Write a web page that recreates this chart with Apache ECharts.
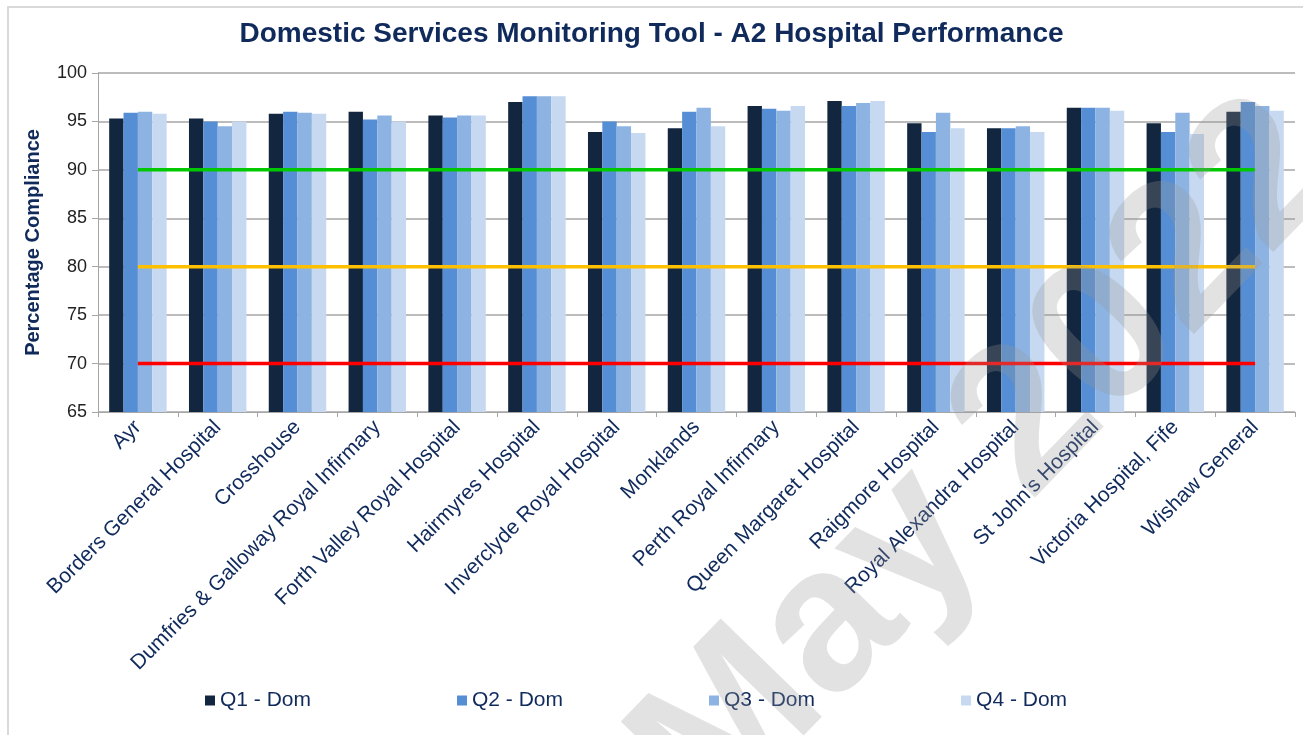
<!DOCTYPE html>
<html>
<head>
<meta charset="utf-8">
<script src="https://cdn.jsdelivr.net/npm/echarts@6/dist/echarts.min.js"></script>
<style>
  html, body { margin: 0; padding: 0; background: #fff; }
  #container { width: 1303px; height: 735px; }
</style>
</head>
<body>
<div id="container"></div>
<script>
const hospitals = ['Ayr', 'Borders General Hospital', 'Crosshouse', 'Dumfries & Galloway Royal Infirmary',
	'Forth Valley Royal Hospital', 'Hairmyres Hospital', 'Inverclyde Royal Hospital', 'Monklands',
	'Perth Royal Infirmary', 'Queen Margaret Hospital', 'Raigmore Hospital', 'Royal Alexandra Hospital',
	"St John's Hospital", 'Victoria Hospital, Fife', 'Wishaw General'];

const q1 = [95.3, 95.3, 95.8, 96.0, 95.6, 97.0, 93.9, 94.3, 96.6, 97.1, 94.8, 94.3, 96.4, 94.8, 96.0];
const q2 = [95.9, 95.0, 96.0, 95.2, 95.4, 97.6, 95.0, 96.0, 96.3, 96.6, 93.9, 94.3, 96.4, 93.9, 97.0];
const q3 = [96.0, 94.5, 95.9, 95.6, 95.6, 97.6, 94.5, 96.4, 96.1, 96.9, 95.9, 94.5, 96.4, 95.9, 96.6];
const q4 = [95.8, 95.0, 95.8, 95.0, 95.6, 97.6, 93.8, 94.5, 96.6, 97.1, 94.3, 93.9, 96.1, 93.7, 96.1];

const target = 90;
const amber = 80;
const minimum = 70;

const navy = '#102a5c';
const font = 'Liberation Sans, Arial, sans-serif';
const myChart = echarts.init(document.getElementById('container'));

const barSeries = (name, data, color) => ({
	name: name,
	type: 'bar',
	data: data,
	barGap: '0%',
	barCategoryGap: '28%',
	itemStyle: { color: color },
	z: 2,
});

const refLine = (value, color) => ({
	type: 'line',
	data: hospitals.map(() => value),
	symbol: 'none',
	silent: true,
	lineStyle: { color: color, width: 3.5 },
	z: 5,
});

const option = {
	animation: false,
	backgroundColor: '#fff',
	textStyle: { fontFamily: font },
	title: {
		text: 'Domestic Services Monitoring Tool - A2 Hospital Performance',
		left: 'center',
		top: 15,
		textStyle: { color: navy, fontSize: 28, fontWeight: 'bold' },
	},
	grid: { left: 98, right: 8, top: 73, bottom: 323, containLabel: false },
	legend: {
		data: ['Q1 - Dom', 'Q2 - Dom', 'Q3 - Dom', 'Q4 - Dom'],
		left: 200,
		top: 685,
		itemWidth: 10,
		itemHeight: 10,
		itemGap: 146,
		icon: 'rect',
		textStyle: { color: navy, fontSize: 21 },
	},
	xAxis: {
		type: 'category',
		data: hospitals,
		axisLine: { lineStyle: { color: '#a6a6a6' } },
		axisTick: { show: true, length: 5, lineStyle: { color: '#a6a6a6' } },
		axisLabel: { rotate: 45, color: navy, fontSize: 21, interval: 0, margin: 12 },
	},
	yAxis: {
		type: 'value',
		min: 65,
		max: 100,
		interval: 5,
		name: 'Percentage Compliance',
		nameLocation: 'middle',
		nameGap: 55,
		nameTextStyle: { color: navy, fontSize: 20, fontWeight: 'bold' },
		axisLine: { show: true, lineStyle: { color: '#a6a6a6' } },
		axisTick: { show: true, length: 6, lineStyle: { color: '#a6a6a6' } },
		axisLabel: { color: '#222', fontSize: 18, margin: 11 },
		splitLine: { lineStyle: { color: '#a6a6a6', width: 1.5 } },
	},
	series: [
		barSeries('Q1 - Dom', q1, '#13263f'),
		barSeries('Q2 - Dom', q2, '#558ed5'),
		barSeries('Q3 - Dom', q3, '#8db3e2'),
		barSeries('Q4 - Dom', q4, '#c6d9f1'),
		refLine(target, '#00c800'),
		refLine(amber, '#ffc000'),
		refLine(minimum, '#ff0000'),
	],
	graphic: [
		{
			type: 'rect',
			shape: { x: 8, y: 7, width: 1310, height: 750 },
			style: { fill: 'none', stroke: '#d9d9d9', lineWidth: 2 },
			silent: true,
		},
		{
			// "May 2022" watermark stamped over the picture
			type: 'text',
			x: 672,
			y: 790,
			rotation: 0.8,
			z: 100,
			silent: true,
			style: {
				text: 'May 2022',
				fontSize: 205,
				fontWeight: 'bold',
				fontFamily: font,
				fill: 'rgba(150,150,150,0.28)',
				align: 'left',
				verticalAlign: 'middle',
			},
		},
	],
};

myChart.setOption(option);
</script>
</body>
</html>
